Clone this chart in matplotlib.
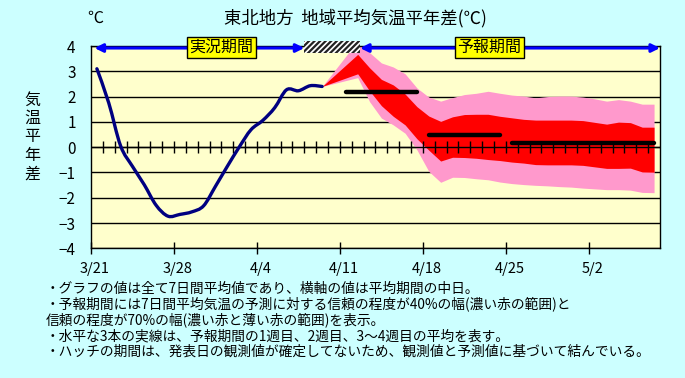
import numpy as np
import matplotlib.pyplot as plt
import matplotlib.transforms as mtransforms
from matplotlib.patches import Rectangle, PathPatch
from matplotlib.path import Path

plt.rcParams['font.family'] = ['Noto Sans CJK JP', 'DejaVu Sans']
plt.rcParams['hatch.linewidth'] = 1.6

# 観測値 (7日間平均, 3/21 起点の日番号 i → 位置 i+0.5)
obs_vals = [3.1, 1.75, 0.05, -0.76, -1.49, -2.3, -2.73, -2.66, -2.56, -2.32,
            -1.55, -0.76, 0.0, 0.69, 1.06, 1.56, 2.27, 2.23, 2.43, 2.4]

# 予報 (i=19 は観測の終点, i=22..47 が予報値)
fc_idx = [19] + list(range(22, 48))
red_top = [2.4, 3.67, 3.14, 2.68, 2.46, 2.1, 1.6, 1.23, 1.02, 1.2, 1.29, 1.3, 1.3, 1.22,
           1.16, 1.1, 1.07, 1.07, 1.07, 1.07, 1.05, 0.98, 0.91, 0.99, 0.97, 0.79, 0.79]
red_bot = [2.4, 2.9, 2.23, 1.64, 1.22, 0.88, 0.33, -0.12, -0.55, -0.4, -0.41, -0.44, -0.49,
           -0.53, -0.59, -0.63, -0.69, -0.7, -0.7, -0.7, -0.72, -0.78, -0.84, -0.84, -0.83,
           -0.98, -0.99]
pink_top = [2.4, 4.2, 3.74, 3.33, 3.17, 2.9, 2.34, 1.98, 1.82, 1.96, 2.08, 2.13, 2.21, 2.13,
            2.06, 2.02, 1.95, 2.0, 2.02, 2.02, 1.98, 1.91, 1.82, 1.88, 1.82, 1.7, 1.7]
pink_bot = [2.4, 2.75, 1.8, 1.15, 0.88, 0.55, -0.11, -0.96, -1.39, -1.19, -1.2, -1.25, -1.29,
            -1.38, -1.44, -1.48, -1.51, -1.53, -1.56, -1.58, -1.62, -1.65, -1.68, -1.68,
            -1.7, -1.79, -1.8]

# 1週目, 2週目, 3~4週目の平均
week_start = [21, 28, 35]
week_end = [27, 34, 47]
week_vals = [2.2, 0.5, 0.15]

# ハッチ期間, 実況・予報期間
hatch_span = (18.0, 22.7)
obs_span = (0.3, 18.0)
fc_span = (22.7, 48.0)

date_labels = ['3/21', '3/28', '4/4', '4/11', '4/18', '4/25', '5/2']
date_pos = [0, 7, 14, 21, 28, 35, 42]
n_days = 48

notes = [
    '・グラフの値は全て7日間平均値であり、横軸の値は平均期間の中日。',
    '・予報期間には7日間平均気温の予測に対する信頼の程度が40%の幅(濃い赤の範囲)と',
    '信頼の程度が70%の幅(濃い赤と薄い赤の範囲)を表示。',
    '・水平な3本の実線は、予報期間の1週目、2週目、3～4週目の平均を表す。',
    '・ハッチの期間は、発表日の観測値が確定してないため、観測値と予測値に基づいて結んでいる。',
]


def smooth_path(x, y):
    # Excel風の平滑線 (Catmull-Rom をベジェ曲線で描く)
    pts = np.column_stack([x, y])
    verts = [pts[0]]
    codes = [Path.MOVETO]
    for k in range(len(pts) - 1):
        p0 = pts[k - 1] if k > 0 else pts[k]
        p1, p2 = pts[k], pts[k + 1]
        p3 = pts[k + 2] if k + 2 < len(pts) else pts[k + 1]
        verts += [p1 + (p2 - p0) / 6, p2 - (p3 - p1) / 6, p2]
        codes += [Path.CURVE4] * 3
    return Path(verts, codes)


fig = plt.figure(figsize=(6.85, 3.78), dpi=100, facecolor='#CCFFFF')
ax = fig.add_axes([0.1328, 0.3431, 0.8307, 0.5352], facecolor='#FFFFCC')

x_obs = np.arange(len(obs_vals)) + 0.5
x_fc = np.array(fc_idx) + 0.5

# 信頼区間
ax.fill_between(x_fc, pink_bot, pink_top, color='#FF99CC', lw=0, zorder=1.5)
ax.fill_between(x_fc, red_bot, red_top, color='#FF0000', lw=0, zorder=1.6)

# 観測
ax.add_patch(PathPatch(smooth_path(x_obs, obs_vals), facecolor='none',
                       edgecolor='#000080', lw=2.4, zorder=3, capstyle='round'))

# 0線と日ごとの目盛
ax.axhline(0, color='black', lw=1, zorder=2.5)
tick_days = np.arange(1, n_days)
ax.plot(tick_days, np.zeros(len(tick_days)), ls='none', marker='|', ms=8, mew=1,
        color='black', zorder=2.5)

# 週平均
for s, e, v in zip(week_start, week_end, week_vals):
    ax.plot([s + 0.5, e + 0.5], [v, v], color='black', lw=3.2, zorder=4,
            solid_capstyle='round')

# ハッチ
hatch = Rectangle((hatch_span[0], 3.72), hatch_span[1] - hatch_span[0], 0.46,
                  facecolor='white', edgecolor='#222222', hatch='//////', lw=0,
                  zorder=5, clip_on=False)
ax.add_patch(hatch)

# 期間の矢印
for span in (obs_span, fc_span):
    ax.annotate('', xy=(span[1], 3.92), xytext=(span[0], 3.92),
                arrowprops=dict(arrowstyle='<|-|>', color='#0000FF', lw=2.2,
                                mutation_scale=12, shrinkA=0, shrinkB=0),
                annotation_clip=False, zorder=6)

box = dict(boxstyle='square,pad=0.14', facecolor='#FFFF00', edgecolor='black', lw=1)
ax.text(11, 3.94, '実況期間', ha='center', va='center', fontsize=11.5, bbox=box,
        zorder=7, clip_on=False)
ax.text(33.6, 3.94, '予報期間', ha='center', va='center', fontsize=11.5, bbox=box,
        zorder=7, clip_on=False)

ax.set_xlim(0, n_days)
ax.set_ylim(-4, 4)
ax.set_yticks(range(-4, 5))
ax.set_yticklabels([str(v).replace('-', '−') for v in range(-4, 5)], fontsize=11)
ax.set_xticks(date_pos)
ax.set_xticklabels(date_labels, fontsize=10.5)
ax.tick_params(axis='x', direction='inout', length=9, width=1, pad=5)
ax.tick_params(axis='y', length=0, pad=11)
shift = mtransforms.ScaledTranslation(4 / 100, 0, fig.dpi_scale_trans)
for lab in ax.get_xticklabels():
    lab.set_transform(lab.get_transform() + shift)
ax.grid(axis='y', color='black', lw=1)
ax.set_axisbelow(True)
for sp in ax.spines.values():
    sp.set_color('black')
    sp.set_linewidth(1)

fig.text(95 / 685, 1 - 18 / 378, '℃', ha='center', va='center', fontsize=11.5)
fig.text(355 / 685, 1 - 18 / 378, '東北地方  地域平均気温平年差(℃)', ha='center',
         va='center', fontsize=12.5)
fig.text(32 / 685, 1 - 137 / 378, '\n'.join('気温平年差'), ha='center', va='center',
         fontsize=11.5, linespacing=1.1)

note_y = [289, 304, 320, 336, 352]
for t, yy in zip(notes, note_y):
    fig.text(46 / 685, 1 - yy / 378, t, ha='left', va='center', fontsize=9.9)

fig.savefig('out.png', dpi=100, facecolor=fig.get_facecolor())
